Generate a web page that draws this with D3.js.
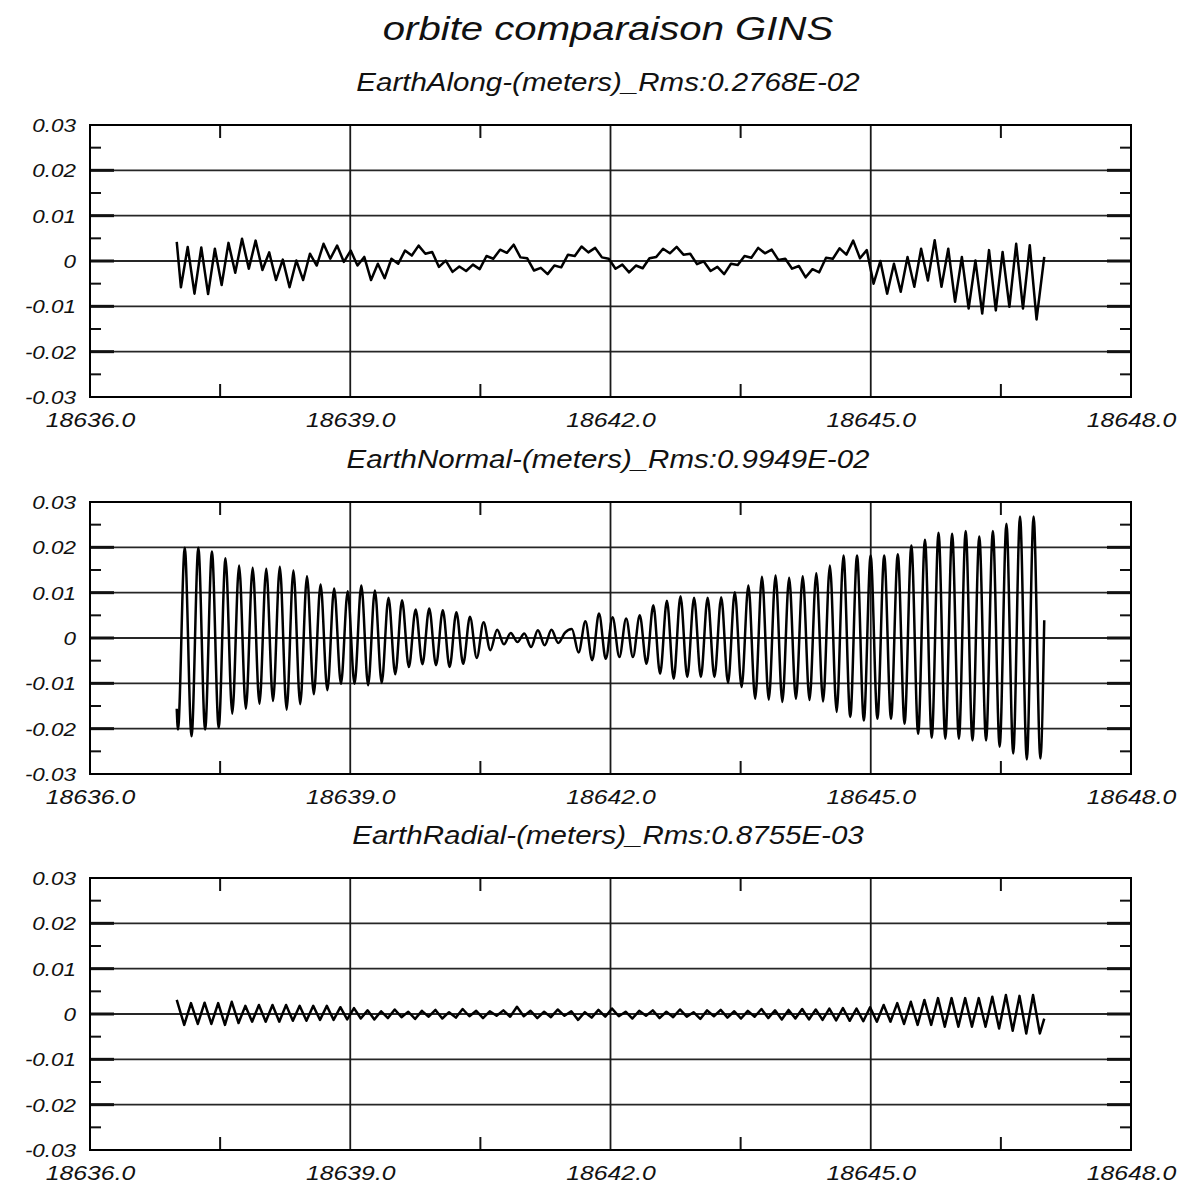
<!DOCTYPE html>
<html>
<head>
<meta charset="utf-8">
<script src="https://cdn.jsdelivr.net/npm/d3@7"></script>
<style>
  html, body { margin: 0; padding: 0; background: #fff; }
  svg text { font-family: "Liberation Sans", Arial, Helvetica, sans-serif; font-style: italic; fill: #111; }
</style>
</head>
<body>
<svg id="chart" width="1182" height="1186"></svg>
<script>
// ---- figure text ----
const figureTitle = "orbite comparaison GINS";
const panelTitles = [
  "EarthAlong-(meters)_Rms:0.2768E-02",
  "EarthNormal-(meters)_Rms:0.9949E-02",
  "EarthRadial-(meters)_Rms:0.8755E-03"
];

// ---- axes ----
const xDomain = [18636, 18648];
const xTickValues = [18636, 18639, 18642, 18645, 18648];
const xTickLabels = ["18636.0", "18639.0", "18642.0", "18645.0", "18648.0"];
const xGridValues = [18639, 18642, 18645];
const xMinorTicks = [18637.5, 18640.5, 18643.5, 18646.5];
const yDomain = [-0.03, 0.03];
const yTickValues = [-0.03, -0.02, -0.01, 0, 0.01, 0.02, 0.03];
const yTickLabels = ["-0.03", "-0.02", "-0.01", "0", "0.01", "0.02", "0.03"];
const yGridValues = [-0.02, -0.01, 0, 0.01, 0.02];
const yMinorTicks = [-0.025, -0.015, -0.005, 0.005, 0.015, 0.025];

// ---- orbit differences (metres) ----
// Each series: first epoch, then successive per-half-revolution extrema, then last epoch.
const arcStart = 18637.0;
const arcEnd = 18647.0;
const halfRevStep = 0.07828; // days between successive extrema

const alongFirst = 0.0042, alongLast = 0.0009, alongT0 = 18637.048;
const alongExtrema = [
  -0.0058, 0.0031, -0.0072, 0.0030, -0.0073, 0.0027, -0.0053, 0.0040, -0.0026, 0.0049,
  -0.0017, 0.0045, -0.0020, 0.0019, -0.0042, 0.0003, -0.0058, 0.0001, -0.0042, 0.0016,
  -0.0010, 0.0038, 0.0005, 0.0034, -0.0002, 0.0023, -0.0010, 0.0009, -0.0042, -0.0006,
  -0.0038, 0.0005, -0.0006, 0.0023, 0.0012, 0.0034, 0.0016, 0.0020, -0.0013, 0.0001,
  -0.0024,
  -0.0012, -0.0022, -0.0008, -0.0018, 0.0011, 0.0005, 0.0025, 0.0018, 0.0036, 0.0008,
  0.0006, -0.0021, -0.0015, -0.0029, -0.0010, -0.0014, 0.0014, 0.0011, 0.0032, 0.0019,
  0.0029, 0.0008, 0.0005, -0.0017, -0.0008, -0.0025, -0.0010, -0.0016, 0.0006, 0.0009,
  0.0027, 0.0017, 0.0031, 0.0014, 0.0016, -0.0007, -0.0001, -0.0022, -0.0013, -0.0029,
  -0.0006, -0.0009, 0.0011, 0.0007, 0.0029, 0.0017, 0.0025, 0.0002, 0.0005, -0.0017,
  -0.0011, -0.0036, -0.0018, -0.0025, 0.0007, 0.0005, 0.0028, 0.0014, 0.0045, 0.0006,
  0.0024, -0.0050, 0.0000, -0.0072, -0.0006, -0.0068, 0.0009, -0.0057, 0.0027, -0.0043,
  0.0046, -0.0057, 0.0027, -0.0090, 0.0009, -0.0105, 0.0001, -0.0116, 0.0024, -0.0109,
  0.0020, -0.0101, 0.0038, -0.0105, 0.0035, -0.0129
];

const normalFirst = -0.0156, normalLast = 0.0039, normalT0 = 18637.014;
const normalExtrema = [
  -0.0202, 0.0199, -0.0217, 0.0199, -0.0202, 0.0191, -0.0198, 0.0176, -0.0167, 0.0160,
  -0.0156, 0.0155, -0.0145, 0.0153, -0.0139, 0.0157, -0.0158, 0.0149, -0.0146, 0.0136,
  -0.0124, 0.0118, -0.0115, 0.0109, -0.0101, 0.0103, -0.0101, 0.0116, -0.0104, 0.0105,
  -0.0099, 0.0089, -0.0080, 0.0083, -0.0064, 0.0063, -0.0058, 0.0065, -0.0060, 0.0061,
  -0.0064, 0.0057, -0.0057, 0.0047, -0.0044, 0.0035, -0.0027, 0.0018, -0.0014, 0.0011,
  -0.0009, 0.0010, -0.0020, 0.0017, -0.0016, 0.0018, -0.0011, 0.0012, 0.0020, -0.0032,
  0.0037, -0.0049, 0.0054, -0.0046, 0.0046, -0.0042, 0.0043, -0.0042, 0.0050, -0.0057,
  0.0072, -0.0079, 0.0082, -0.0090, 0.0092, -0.0086, 0.0089, -0.0086, 0.0089, -0.0086,
  0.0090, -0.0099, 0.0101, -0.0108, 0.0116, -0.0134, 0.0135, -0.0136, 0.0138, -0.0141,
  0.0133, -0.0134, 0.0136, -0.0137, 0.0143, -0.0140, 0.0160, -0.0163, 0.0182, -0.0174,
  0.0182, -0.0182, 0.0182, -0.0178, 0.0182, -0.0178, 0.0185, -0.0189, 0.0204, -0.0211,
  0.0217, -0.0220, 0.0232, -0.0222, 0.0230, -0.0222, 0.0236, -0.0226, 0.0224, -0.0226,
  0.0236, -0.0240, 0.0252, -0.0255, 0.0268, -0.0268, 0.0268, -0.0266
];

const radialFirst = 0.0031, radialLast = -0.0010, radialT0 = 18637.086;
const radialExtrema = [
  -0.0024, 0.0024, -0.0022, 0.0025, -0.0022, 0.0024, -0.0024, 0.0027, -0.0020, 0.0018,
  -0.0017, 0.0020, -0.0017, 0.0020, -0.0017, 0.0020, -0.0015, 0.0018, -0.0015, 0.0018,
  -0.0013, 0.0018, -0.0013, 0.0015, -0.0012, 0.0013,
  -0.0010, 0.0008, -0.0012, 0.0006, -0.0009, 0.0010, -0.0007, 0.0005, -0.0011, 0.0007,
  -0.0006, 0.0009, -0.0010, 0.0004, -0.0008, 0.0011, -0.0005, 0.0007, -0.0009, 0.0006,
  -0.0004, 0.0008, -0.0006, 0.0016, -0.0005, 0.0007, -0.0009, 0.0005, -0.0007, 0.0010,
  -0.0004, 0.0006, -0.0013, 0.0004, -0.0008, 0.0009, -0.0006, 0.0012, -0.0005, 0.0005,
  -0.0010, 0.0007, -0.0004, 0.0008, -0.0009, 0.0005, -0.0007, 0.0010, -0.0006, 0.0004,
  -0.0011, 0.0008, -0.0005, 0.0009, -0.0008, 0.0006, -0.0010, 0.0007, -0.0006, 0.0011,
  -0.0009, 0.0008, -0.0012, 0.0009, -0.0010, 0.0011, -0.0012,
  0.0010, -0.0013, 0.0012, -0.0014, 0.0013, -0.0015, 0.0012, -0.0016, 0.0015, -0.0017,
  0.0020, -0.0017, 0.0024, -0.0022, 0.0027, -0.0024, 0.0031, -0.0024, 0.0035, -0.0028,
  0.0035, -0.0028, 0.0035, -0.0028, 0.0035, -0.0028, 0.0038, -0.0032, 0.0042, -0.0037,
  0.0040, -0.0043, 0.0042, -0.0043
];

function buildSeries(first, t0, extrema, last) {
  const pts = [[arcStart, first]];
  extrema.forEach((v, i) => pts.push([t0 + i * halfRevStep, v]));
  pts.push([arcEnd, last]);
  return pts;
}

const panels = [
  { title: panelTitles[0], points: buildSeries(alongFirst, alongT0, alongExtrema, alongLast), curve: d3.curveLinear },
  { title: panelTitles[1], points: buildSeries(normalFirst, normalT0, normalExtrema, normalLast), curve: d3.curveMonotoneX },
  { title: panelTitles[2], points: buildSeries(radialFirst, radialT0, radialExtrema, radialLast), curve: d3.curveLinear }
];

// ---- layout ----
const W = 1182, H = 1186;
const plotLeft = 90, plotRight = 1131;
const panelTops = [125, 502, 878];
const panelH = 272;
const titleX = 608;
const WIDEN = 1.18; // horizontal widening of all lettering

const svg = d3.select("#chart");
svg.append("rect").attr("width", W).attr("height", H).attr("fill", "#fff");

function widen(sel) {
  sel.each(function () {
    const w = this.getComputedTextLength();
    d3.select(this).attr("textLength", w * WIDEN).attr("lengthAdjust", "spacingAndGlyphs");
  });
}

svg.append("text")
  .attr("x", titleX).attr("y", 40)
  .attr("text-anchor", "middle")
  .attr("font-size", 34)
  .text(figureTitle)
  .call(widen);

const x = d3.scaleLinear().domain(xDomain).range([plotLeft, plotRight]);

panels.forEach((p, i) => {
  const top = panelTops[i];
  const bottom = top + panelH;
  const y = d3.scaleLinear().domain(yDomain).range([bottom, top]);
  const g = svg.append("g");

  g.append("text")
    .attr("x", titleX).attr("y", top - 34)
    .attr("text-anchor", "middle")
    .attr("font-size", 25)
    .text(p.title)
    .call(widen);

  // grid
  g.append("g").selectAll("line").data(yGridValues).join("line")
    .attr("x1", plotLeft).attr("x2", plotRight)
    .attr("y1", d => y(d)).attr("y2", d => y(d))
    .attr("stroke", "#262626").attr("stroke-width", 1.8);
  g.append("g").selectAll("line").data(xGridValues).join("line")
    .attr("x1", d => x(d)).attr("x2", d => x(d))
    .attr("y1", top).attr("y2", bottom)
    .attr("stroke", "#1a1a1a").attr("stroke-width", 1.8);

  // major tick stubs on both vertical edges
  const stubs = g.append("g").attr("stroke", "#111").attr("stroke-width", 3);
  stubs.selectAll(".l").data(yGridValues).join("line")
    .attr("x1", plotLeft).attr("x2", plotLeft + 24)
    .attr("y1", d => y(d)).attr("y2", d => y(d));
  stubs.selectAll(".r").data(yGridValues).join("line")
    .attr("x1", plotRight - 24).attr("x2", plotRight)
    .attr("y1", d => y(d)).attr("y2", d => y(d));

  // minor ticks
  const minor = g.append("g").attr("stroke", "#111").attr("stroke-width", 2);
  minor.selectAll(".ml").data(yMinorTicks).join("line")
    .attr("x1", plotLeft).attr("x2", plotLeft + 11)
    .attr("y1", d => y(d)).attr("y2", d => y(d));
  minor.selectAll(".mr").data(yMinorTicks).join("line")
    .attr("x1", plotRight - 11).attr("x2", plotRight)
    .attr("y1", d => y(d)).attr("y2", d => y(d));
  minor.selectAll(".mt").data(xMinorTicks).join("line")
    .attr("x1", d => x(d)).attr("x2", d => x(d))
    .attr("y1", top).attr("y2", top + 13);
  minor.selectAll(".mb").data(xMinorTicks).join("line")
    .attr("x1", d => x(d)).attr("x2", d => x(d))
    .attr("y1", bottom - 13).attr("y2", bottom);

  // data
  const line = d3.line().x(d => x(d[0])).y(d => y(d[1])).curve(p.curve);
  g.append("path")
    .datum(p.points)
    .attr("d", line)
    .attr("fill", "none")
    .attr("stroke", "#000")
    .attr("stroke-width", 2.5)
    .attr("stroke-linejoin", "round");

  // frame
  g.append("rect")
    .attr("x", plotLeft).attr("y", top)
    .attr("width", plotRight - plotLeft).attr("height", panelH)
    .attr("fill", "none").attr("stroke", "#000").attr("stroke-width", 2);

  // axis labels
  const yAxis = d3.axisLeft(y).tickValues(yTickValues)
    .tickFormat(d => yTickLabels[yTickValues.indexOf(d)])
    .tickSize(0).tickPadding(14);
  const ya = g.append("g").attr("transform", `translate(${plotLeft},0)`).call(yAxis);
  ya.select(".domain").remove();
  ya.selectAll("text").attr("font-size", 19).attr("dy", "0.34em").call(widen);

  const xAxis = d3.axisBottom(x).tickValues(xTickValues)
    .tickFormat(d => xTickLabels[xTickValues.indexOf(d)])
    .tickSize(0).tickPadding(0);
  const xa = g.append("g").attr("transform", `translate(0,${bottom})`).call(xAxis);
  xa.select(".domain").remove();
  xa.selectAll("text").attr("font-size", 21).attr("y", 30).attr("dy", 0).call(widen);
});
</script>
</body>
</html>
